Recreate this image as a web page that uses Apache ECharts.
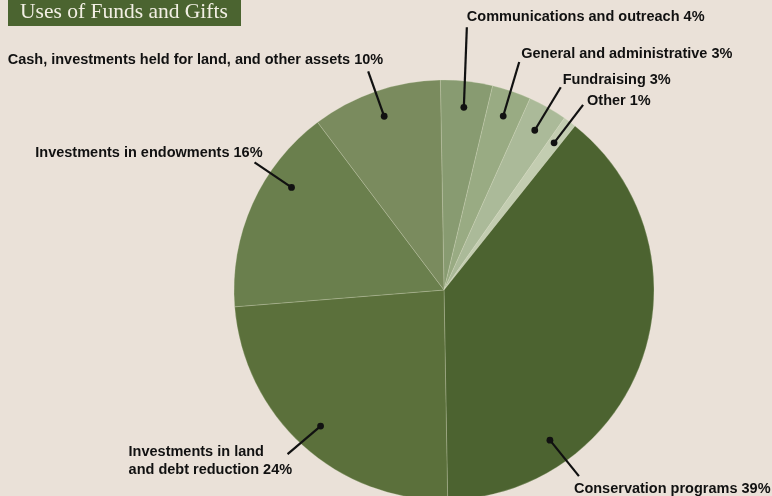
<!DOCTYPE html>
<html>
<head>
<meta charset="utf-8">
<script src="https://cdn.jsdelivr.net/npm/echarts@6/dist/echarts.min.js"></script>
<style>
html, body { margin: 0; padding: 0; background: #eae1d8; }
#chart { width: 772px; height: 496px; }
</style>
</head>
<body>
<div id="chart"></div>
<script>
// data
var categories = [
	'Communications and outreach',
	'General and administrative',
	'Fundraising',
	'Other',
	'Conservation programs',
	'Investments in land\nand debt reduction',
	'Investments in endowments',
	'Cash, investments held for land, and other assets'
];
var shares = [4, 3, 3, 1, 39, 24, 16, 10];

var sliceColors = ['#889b71', '#99ab83', '#abba99', '#c3cdb1', '#4c6330', '#5b703b', '#6a7f4d', '#7a8b5e'];

// callouts: shift of the dot along the circle (percent), leader end (lx, ly)
// and label anchor (tx, ty), both relative to the dot
var leaders = [
	{ shift: 0, lx: 3, ly: -80, tx: 3, ty: -90, align: 'left' },
	{ shift: 0, lx: 16, ly: -54, tx: 18, ty: -62, align: 'left' },
	{ shift: 0, lx: 26, ly: -43, tx: 28, ty: -50, align: 'left' },
	{ shift: 0, lx: 29, ly: -38, tx: 33, ty: -42, align: 'left' },
	{ shift: 10, lx: 29, ly: 36, tx: 24, ty: 49, align: 'left' },
	{ shift: 0, lx: -33, ly: 28, tx: -192, ty: 35, align: 'left' },
	{ shift: 2.7, lx: -37, ly: -25, tx: -29, ty: -34, align: 'right' },
	{ shift: 0, lx: -16, ly: -45, tx: -1, ty: -56, align: 'right' }
];

var pieData = categories.map(function (name, i) {
	return { name: name, value: shares[i], itemStyle: { color: sliceColors[i] } };
});

var total = shares.reduce(function (a, b) { return a + b; }, 0);
var dotData = [];
var acc = 0;
shares.forEach(function (v, i) {
	dotData.push([0.875, (acc + v / 2) / total * 100 + leaders[i].shift]);
	acc += v;
});

var chart = echarts.init(document.getElementById('chart'));
var option = {
	backgroundColor: '#eae1d8',
	animation: false,
	graphic: [
		{ type: 'rect', left: 8, top: 0, shape: { width: 233, height: 26 }, style: { fill: '#4b6430' } },
		{ type: 'text', left: 20, top: 1, style: { text: 'Uses of Funds and Gifts', fill: '#f2efe4', font: '21.5px "Liberation Serif", "DejaVu Serif", serif' } }
	],
	polar: { center: [444, 290], radius: 210 },
	angleAxis: { type: 'value', min: 0, max: 100, startAngle: 91, clockwise: true, show: false },
	radiusAxis: { type: 'value', min: 0, max: 1, show: false },
	series: [
		{
			type: 'pie',
			center: [444, 290],
			radius: 210,
			startAngle: 91,
			clockwise: true,
			silent: true,
			label: { show: false },
			labelLine: { show: false },
			itemStyle: { borderColor: 'rgba(225,228,205,0.4)', borderWidth: 0.6 },
			data: pieData
		},
		{
			type: 'custom',
			coordinateSystem: 'polar',
			silent: true,
			z: 5,
			data: dotData,
			renderItem: function (params, api) {
				var i = params.dataIndex;
				var o = leaders[i];
				var p = api.coord([api.value(0), api.value(1)]);
				var e = [p[0] + o.lx, p[1] + o.ly];
				return {
					type: 'group',
					children: [
						{ type: 'line', shape: { x1: p[0], y1: p[1], x2: e[0], y2: e[1] }, style: { stroke: '#111', lineWidth: 2.2 } },
						{ type: 'circle', shape: { cx: p[0], cy: p[1], r: 3.4 }, style: { fill: '#111' } },
						{
							type: 'text',
							x: p[0] + o.tx,
							y: p[1] + o.ty,
							style: {
								text: categories[i] + ' ' + shares[i] + '%',
								fill: '#111',
								font: 'bold 14.5px "Liberation Sans", Arial, sans-serif',
								lineHeight: 18,
								align: o.align,
								verticalAlign: 'middle'
							}
						}
					]
				};
			}
		}
	]
};
chart.setOption(option);
</script>
</body>
</html>
